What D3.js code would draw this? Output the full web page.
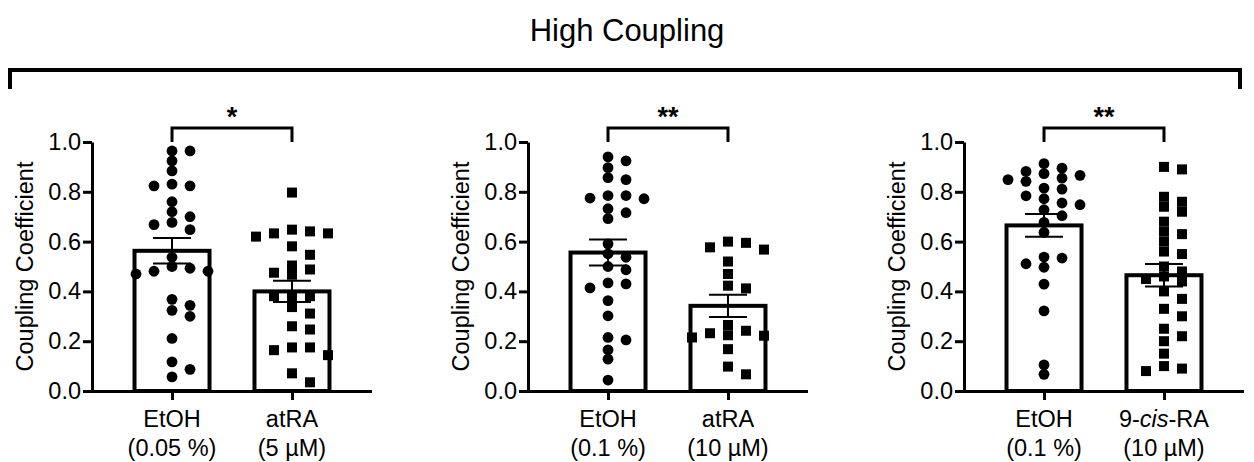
<!DOCTYPE html>
<html>
<head>
<meta charset="utf-8">
<script src="https://cdn.jsdelivr.net/npm/d3@7"></script>
<style>
  body { margin: 0; background: #fff; }
  svg { display: block; font-family: Helvetica, Arial, "Liberation Sans", sans-serif; }
</style>
</head>
<body>
<svg id="chart" width="1254" height="462"></svg>
<script>
// values
const etoh005 = [0.964, 0.964, 0.924, 0.884, 0.831, 0.824, 0.824, 0.76, 0.72, 0.70, 0.677, 0.668, 0.648,
  0.537, 0.50, 0.493, 0.481, 0.481, 0.47, 0.368, 0.344, 0.324, 0.30, 0.211, 0.117, 0.087, 0.057];
const atra5 = [0.797, 0.648, 0.641, 0.633, 0.633, 0.62, 0.581, 0.547, 0.504, 0.488, 0.475, 0.467,
  0.381, 0.381, 0.381, 0.337, 0.311, 0.26, 0.247, 0.175, 0.175, 0.164, 0.144, 0.071, 0.035];
const etoh01a = [0.94, 0.924, 0.897, 0.857, 0.849, 0.785, 0.785, 0.775, 0.772, 0.732, 0.716, 0.692,
  0.591, 0.551, 0.537, 0.50, 0.487, 0.434, 0.43, 0.414, 0.363, 0.302, 0.215, 0.205, 0.165, 0.128, 0.044];
const atra10 = [0.60, 0.595, 0.577, 0.568, 0.52, 0.47, 0.423, 0.412, 0.265, 0.242, 0.232, 0.224,
  0.222, 0.215, 0.168, 0.098, 0.067];
const etoh01b = [0.913, 0.895, 0.882, 0.873, 0.866, 0.855, 0.849, 0.842, 0.815, 0.811, 0.784, 0.772,
  0.755, 0.748, 0.728, 0.704, 0.677, 0.637, 0.538, 0.534, 0.511, 0.497, 0.429, 0.322, 0.105, 0.067];
const cisRA10 = [0.90, 0.89, 0.78, 0.76, 0.74, 0.72, 0.68, 0.64, 0.63, 0.60, 0.56, 0.55, 0.50, 0.48,
  0.46, 0.45, 0.44, 0.40, 0.37, 0.33, 0.30, 0.25, 0.22, 0.20, 0.15, 0.10, 0.09, 0.08];

const groupValues = [[etoh005, atra5], [etoh01a, atra10], [etoh01b, cisRA10]];
const groupNames = [["EtOH", "atRA"], ["EtOH", "atRA"], ["EtOH", "9-cis-RA"]];
const groupDoses = [["(0.05 %)", "(5 µM)"], ["(0.1 %)", "(10 µM)"], ["(0.1 %)", "(10 µM)"]];
const means = [[0.563, 0.400], [0.556, 0.342], [0.665, 0.465]];
const sems = [[0.051, 0.043], [0.052, 0.045], [0.046, 0.045]];
const stars = ["*", "**", "**"];
const yTicks = [0, 0.2, 0.4, 0.6, 0.8, 1.0];
const titleText = "High Coupling";
const yTitle = "Coupling Coefficient";

const svg = d3.select("#chart");
const axisLeftX = [92, 528, 964];
const axisLen = 280;
const fs = "23.5px";

const y = d3.scaleLinear().domain([0, 1]).range([391, 142]);

// title + big bracket
svg.append("text")
  .attr("x", 627).attr("y", 41)
  .attr("text-anchor", "middle")
  .style("font-size", "31px")
  .text(titleText);

svg.append("path")
  .attr("d", "M10,89V70H1240V89")
  .attr("fill", "none").attr("stroke", "#000").attr("stroke-width", 4);

const step = 18;
function swarm(vals) {
  const placed = [];
  vals.slice().sort((a, b) => b - a).forEach(v => {
    const py = y(v);
    for (const k of [0, 1, -1, 2, -2, 3, -3, 4, -4]) {
      if (!placed.some(p => p.k === k && Math.abs(p.py - py) < 9)) {
        placed.push({ v, k, py });
        break;
      }
    }
  });
  return placed;
}

groupValues.forEach((groups, pi) => {
  const ax = axisLeftX[pi];
  const x = d3.scalePoint().domain([0, 1]).range([ax, ax + axisLen]).padding(0.667);
  const g = svg.append("g");

  // bars
  g.selectAll(".bar").data(means[pi]).enter().append("rect")
    .attr("x", (d, i) => x(i) - 37.5)
    .attr("width", 75)
    .attr("y", d => y(d))
    .attr("height", d => y(0) - y(d))
    .attr("fill", "#fff").attr("stroke", "#000").attr("stroke-width", 4);

  // points
  groups.forEach((vals, gi) => {
    const pts = swarm(vals);
    if (gi === 0) {
      g.selectAll(null).data(pts).enter().append("circle")
        .attr("cx", d => x(gi) + d.k * step)
        .attr("cy", d => d.py)
        .attr("r", 5.4)
        .attr("fill", "#000");
    } else {
      g.selectAll(null).data(pts).enter().append("rect")
        .attr("x", d => x(gi) + d.k * step - 5)
        .attr("y", d => d.py - 5)
        .attr("width", 10).attr("height", 10)
        .attr("fill", "#000");
    }
  });

  // error bars
  means[pi].forEach((m, i) => {
    const cx = x(i), hi = y(m + sems[pi][i]), lo = y(m - sems[pi][i]);
    g.append("path")
      .attr("d", `M${cx},${hi}V${lo}M${cx - 19},${hi}H${cx + 19}M${cx - 19},${lo}H${cx + 19}`)
      .attr("fill", "none").attr("stroke", "#000").attr("stroke-width", 2);
  });

  // y axis
  const yAxis = g.append("g")
    .attr("transform", `translate(${ax},0)`)
    .call(d3.axisLeft(y).tickValues(yTicks).tickFormat(d3.format(".1f")).tickSize(9).tickPadding(2).tickSizeOuter(0));
  yAxis.select(".domain").attr("stroke-width", 3);
  yAxis.selectAll(".tick line").attr("stroke-width", 3);
  yAxis.selectAll(".tick text").style("font-size", fs).attr("fill", "#000").attr("font-family", null);

  // x axis
  const xAxis = g.append("g")
    .attr("transform", `translate(0,${y(0)})`)
    .call(d3.axisBottom(x).tickSize(9).tickSizeOuter(0).tickFormat(""));
  xAxis.select(".domain").attr("d", `M${ax - 1.5},0.5H${ax + axisLen}`).attr("stroke-width", 3);
  xAxis.selectAll(".tick line").attr("stroke-width", 3);

  [0, 1].forEach(i => {
    const t = g.append("text")
      .attr("x", x(i)).attr("y", 427)
      .attr("text-anchor", "middle")
      .style("font-size", fs);
    const name = groupNames[pi][i];
    if (name.includes("cis")) {
      t.append("tspan").text("9-");
      t.append("tspan").style("font-style", "italic").text("cis");
      t.append("tspan").text("-RA");
    } else {
      t.text(name);
    }
    g.append("text")
      .attr("x", x(i)).attr("y", 456)
      .attr("text-anchor", "middle")
      .style("font-size", fs)
      .text(groupDoses[pi][i]);
  });

  // y title
  g.append("text")
    .attr("transform", `translate(${ax - 59},${(y(0) + y(1)) / 2}) rotate(-90)`)
    .attr("text-anchor", "middle")
    .style("font-size", fs)
    .text(yTitle);

  // significance bracket
  g.append("path")
    .attr("d", `M${x(0)},142V128H${x(1)}V142`)
    .attr("fill", "none").attr("stroke", "#000").attr("stroke-width", 3);
  g.append("text")
    .attr("x", (x(0) + x(1)) / 2).attr("y", 126)
    .attr("text-anchor", "middle")
    .style("font-size", "27px").style("font-weight", "bold")
    .text(stars[pi]);
});
</script>
</body>
</html>
